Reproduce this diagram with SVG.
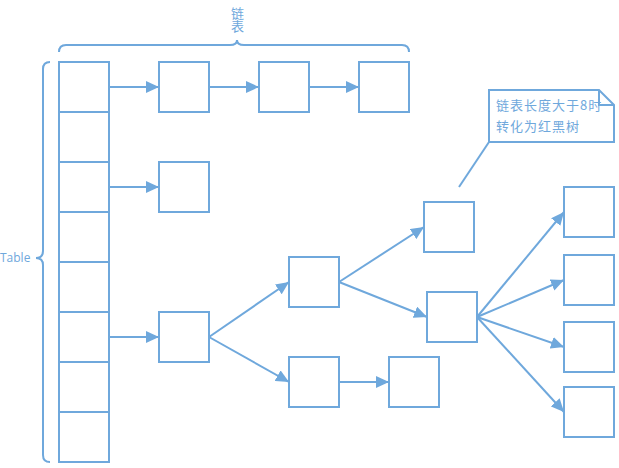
<svg xmlns="http://www.w3.org/2000/svg" width="619" height="468" viewBox="0 0 619 468">
<style>
.n{fill:#ffffff;stroke:#6fa8dc;stroke-width:2}
.c{stroke:#6fa8dc;stroke-width:2;fill:none}
.t{fill:#6fa8dc;font-family:"Open Sans","Noto Sans CJK SC",sans-serif}
.cjk{fill:#6fa8dc;font-family:"Noto Sans CJK SC",sans-serif;font-size:13px;letter-spacing:1px}
</style>
<defs>
<marker id="ah" markerUnits="userSpaceOnUse" markerWidth="14" markerHeight="12" refX="13" refY="6" orient="auto" viewBox="0 0 14 12">
<path d="M0,0 L13,6 L0,12 Z" fill="#6fa8dc"/>
</marker>
</defs>
<rect width="619" height="468" fill="#ffffff"/>
<g id="braces">
<path class="c" d="M59,52 Q59,45 66,45 L230,45 Q237,45 237,40 Q237,45 244,45 L402,45 Q409,45 409,52"/>
<path class="c" d="M50,62 Q43,62 43,69 L43,251 Q43,258 36,258 Q43,258 43,265 L43,455 Q43,462 50,462"/>
<text class="t" x="237" y="7" font-size="13" writing-mode="vertical-rl" font-family="Noto Sans CJK SC, sans-serif">链表</text>
<text class="t" x="0" y="262" font-size="12">Table</text>
</g>
<g id="table">
<rect class="n" x="59" y="62" width="50" height="50"/>
<rect class="n" x="59" y="112" width="50" height="50"/>
<rect class="n" x="59" y="162" width="50" height="50"/>
<rect class="n" x="59" y="212" width="50" height="50"/>
<rect class="n" x="59" y="262" width="50" height="50"/>
<rect class="n" x="59" y="312" width="50" height="50"/>
<rect class="n" x="59" y="362" width="50" height="50"/>
<rect class="n" x="59" y="412" width="50" height="50"/>
</g>
<g id="connectors">
<line class="c" x1="109" y1="87" x2="159" y2="87" marker-end="url(#ah)"/>
<line class="c" x1="209" y1="87" x2="259" y2="87" marker-end="url(#ah)"/>
<line class="c" x1="309" y1="87" x2="359" y2="87" marker-end="url(#ah)"/>
<line class="c" x1="109" y1="187" x2="159" y2="187" marker-end="url(#ah)"/>
<line class="c" x1="109" y1="337" x2="159" y2="337" marker-end="url(#ah)"/>
<line class="c" x1="209" y1="337" x2="289" y2="282" marker-end="url(#ah)"/>
<line class="c" x1="209" y1="337" x2="289" y2="382" marker-end="url(#ah)"/>
<line class="c" x1="339" y1="382" x2="389" y2="382" marker-end="url(#ah)"/>
<line class="c" x1="339" y1="282" x2="424" y2="227" marker-end="url(#ah)"/>
<line class="c" x1="339" y1="282" x2="427" y2="317" marker-end="url(#ah)"/>
<line class="c" x1="477" y1="317" x2="564" y2="212" marker-end="url(#ah)"/>
<line class="c" x1="477" y1="317" x2="564" y2="280" marker-end="url(#ah)"/>
<line class="c" x1="477" y1="317" x2="564" y2="347" marker-end="url(#ah)"/>
<line class="c" x1="477" y1="317" x2="564" y2="412" marker-end="url(#ah)"/>
<line class="c" x1="489" y1="142" x2="459" y2="187"/>
</g>
<g id="list1"><rect class="n" x="159" y="62" width="50" height="50"/></g>
<g id="list2"><rect class="n" x="259" y="62" width="50" height="50"/></g>
<g id="list3"><rect class="n" x="359" y="62" width="50" height="50"/></g>
<g id="list4"><rect class="n" x="159" y="162" width="50" height="50"/></g>
<g id="tree-root"><rect class="n" x="159" y="312" width="50" height="50"/></g>
<g id="tree-a"><rect class="n" x="289" y="257" width="50" height="50"/></g>
<g id="tree-b"><rect class="n" x="289" y="357" width="50" height="50"/></g>
<g id="tree-c"><rect class="n" x="389" y="357" width="50" height="50"/></g>
<g id="tree-d"><rect class="n" x="424" y="202" width="50" height="50"/></g>
<g id="tree-e"><rect class="n" x="427" y="292" width="50" height="50"/></g>
<g id="leaf1"><rect class="n" x="564" y="187" width="50" height="50"/></g>
<g id="leaf2"><rect class="n" x="564" y="255" width="50" height="50"/></g>
<g id="leaf3"><rect class="n" x="564" y="322" width="50" height="50"/></g>
<g id="leaf4"><rect class="n" x="564" y="387" width="50" height="50"/></g>
<g id="note">
<path class="n" d="M489,90 L599,90 L614,105 L614,142 L489,142 Z"/>
<path class="c" d="M599,90 L599,105 L614,105"/>
<text class="cjk" x="496" y="110">链表长度大于8时</text>
<text class="cjk" x="496" y="131">转化为红黑树</text>
</g>
</svg>
